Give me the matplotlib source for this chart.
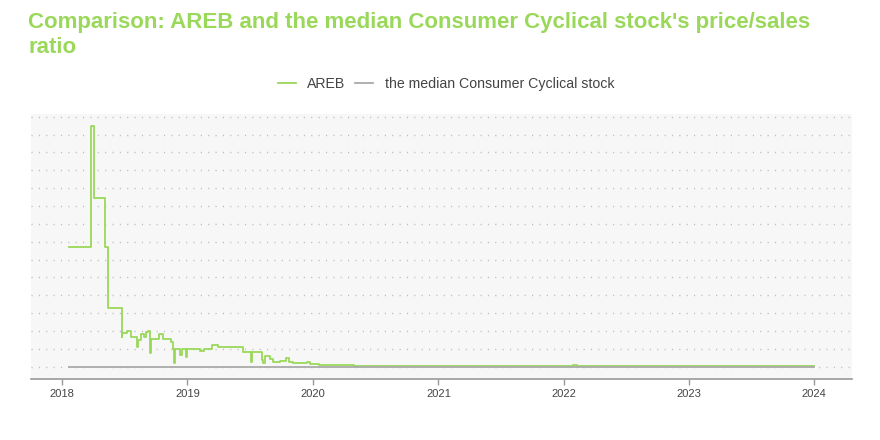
import pandas as pd
import matplotlib.pyplot as plt
import matplotlib.dates as mdates

plt.rcParams['font.family'] = ['Liberation Sans', 'DejaVu Sans']

# AREB price/sales ratio (step series)
areb_dates = ["2018-01-21", "2018-03-25", "2018-04-04", "2018-05-05", "2018-05-13",
              "2018-06-23", "2018-06-25", "2018-07-09", "2018-07-19", "2018-08-07",
              "2018-08-10", "2018-08-18", "2018-08-27", "2018-09-02", "2018-09-08",
              "2018-09-14", "2018-09-16", "2018-10-11", "2018-10-22", "2018-11-13",
              "2018-11-20", "2018-11-22", "2018-11-25", "2018-12-10", "2018-12-15",
              "2018-12-28", "2019-01-01", "2019-02-06", "2019-02-18", "2019-03-12",
              "2019-04-01", "2019-06-12", "2019-07-04", "2019-07-07", "2019-08-05",
              "2019-08-10", "2019-08-15", "2019-08-30", "2019-09-08", "2019-09-28",
              "2019-10-15", "2019-10-25", "2019-11-05", "2019-12-14", "2019-12-24",
              "2020-01-20", "2020-03-01", "2020-05-01", "2020-07-25", "2021-10-26",
              "2022-01-27", "2022-02-08", "2022-06-17", "2022-08-14", "2024-01-01"]
areb_values = [6.72, 13.49, 9.43, 6.72, 3.27,
               1.65, 1.90, 2.00, 1.68, 1.09,
               1.49, 1.83, 1.66, 1.94, 2.00,
               0.78, 1.57, 1.81, 1.57, 1.40,
               0.97, 0.22, 0.97, 0.66, 0.97,
               0.56, 1.01, 0.88, 0.97, 1.23,
               1.12, 0.81, 0.28, 0.81, 0.38,
               0.21, 0.60, 0.41, 0.28, 0.34,
               0.50, 0.28, 0.19, 0.28, 0.15,
               0.12, 0.08, 0.05, 0.03, 0.05,
               0.10, 0.05, 0.03, 0.02, 0.02]

# median Consumer Cyclical stock
median_dates = ["2018-01-21", "2024-01-01"]
median_values = [0.0, 0.0]

green = "#9ad85a"
grey_line = "#aaaaaa"

areb = pd.Series(areb_values, index=pd.to_datetime(areb_dates))
med = pd.Series(median_values, index=pd.to_datetime(median_dates))

fig = plt.figure(figsize=(8.8, 4.4), dpi=100)
ax = fig.add_axes([0.0352, 0.1386, 0.9330, 0.6023])
ax.set_facecolor("#f7f7f7")

ax.plot(areb.index, areb.values, drawstyle="steps-post", color=green, lw=1.3, label="AREB")
ax.plot(med.index, med.values, color=grey_line, lw=1.3, label="the median Consumer Cyclical stock")

ax.set_xlim(pd.Timestamp("2017-10-02"), pd.Timestamp("2024-04-20"))
ax.set_ylim(-0.69, 14.15)
ax.set_yticks(range(0, 15))
ax.yaxis.grid(True, color="#bbbbbb", lw=1.0, linestyle=(0, (0.8, 4.5)))
ax.tick_params(axis="y", length=0, labelleft=False)
ax.set_axisbelow(True)

ax.xaxis.set_major_locator(mdates.YearLocator())
ax.xaxis.set_major_formatter(mdates.DateFormatter("%Y"))
ax.tick_params(axis="x", colors="#999999", labelcolor="#444444", labelsize=8, length=4, width=1)

for s in ["top", "right", "left"]:
    ax.spines[s].set_visible(False)
ax.spines["bottom"].set_color("#999999")
ax.spines["bottom"].set_linewidth(1.2)

fig.text(28 / 880, 1 - 12 / 440, "Comparison: AREB and the median Consumer Cyclical stock's price/sales\nratio",
         color=green, fontsize=16, fontweight="bold", ha="left", va="top", linespacing=1.25)

fig.legend(loc="center", bbox_to_anchor=(0.507, 0.81), ncol=2, frameon=False,
           fontsize=10.2, handlelength=1.25, columnspacing=0.7, handletextpad=0.8,
           labelcolor="#444444")

fig.savefig("out.png", dpi=100)
